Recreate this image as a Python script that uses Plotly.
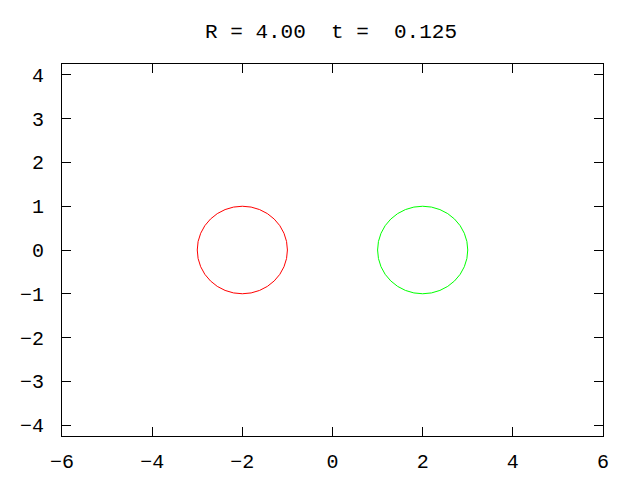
import plotly.graph_objects as go

title_text = "R = 4.00  t =  0.125"
circle_cx = [-2.0, 2.0]
circle_cy = [0.0, 0.0]
circle_r = [1.0, 1.0]
circle_colors = ["#ff0000", "#00ff00"]
x_ticks = [-6, -4, -2, 0, 2, 4, 6]
y_ticks = [-4, -3, -2, -1, 0, 1, 2, 3, 4]

fig = go.Figure()
fig.add_trace(go.Scatter(x=[None], y=[None], showlegend=False))

for cx, cy, r, c in zip(circle_cx, circle_cy, circle_r, circle_colors):
    fig.add_shape(type="circle", xref="x", yref="y",
                  x0=cx - r, x1=cx + r, y0=cy - r, y1=cy + r,
                  line=dict(color=c, width=1))

font = dict(family="Liberation Mono", size=21, color="black")
tick_font = dict(family="Liberation Mono", size=20, color="black")
fig.update_layout(
    width=640, height=480,
    margin=dict(l=62, r=37, t=64, b=44),
    paper_bgcolor="white", plot_bgcolor="white",
    showlegend=False,
    font=font,
    title=dict(text=title_text, x=331/640, xanchor="center", xref="container",
               y=1 - 31/480, yanchor="middle", yref="container", font=font,
               automargin=False),
)
fig.update_xaxes(range=[-6, 6], tickvals=x_ticks, ticktext=[str(v).replace("-", "−") for v in x_ticks],
                 ticks="inside", ticklen=9, tickcolor="black", tickwidth=1, tickfont=tick_font,
                 showline=True, linecolor="black", linewidth=1, mirror="allticks",
                 showgrid=False, zeroline=False, ticklabelstandoff=7, automargin=False)
fig.update_yaxes(range=[-4.25, 4.25], tickvals=y_ticks, ticktext=[str(v).replace("-", "−") for v in y_ticks],
                 ticks="inside", ticklen=9, tickcolor="black", tickwidth=1, tickfont=tick_font,
                 showline=True, linecolor="black", linewidth=1, mirror="allticks",
                 showgrid=False, zeroline=False, ticklabelstandoff=13, automargin=False)

fig.write_html("out.html", config={"displayModeBar": False},
               post_script="document.body.style.margin='0';")
